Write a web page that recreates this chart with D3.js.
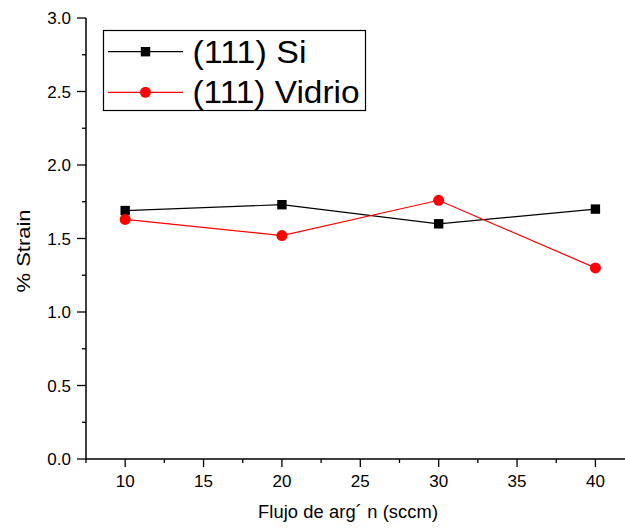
<!DOCTYPE html>
<html><head><meta charset="utf-8">
<script src="https://cdn.jsdelivr.net/npm/d3@7"></script>
<style>body{margin:0;background:#fff}svg{display:block}</style>
</head><body>
<svg id="c" width="625" height="529"></svg>
<script>
const flujo = [10, 20, 30, 40];
const strainSi = [1.69, 1.73, 1.60, 1.70];
const strainVidrio = [1.63, 1.52, 1.76, 1.30];
const seriesNames = ["(111) Si", "(111) Vidrio"];
const xTicks = [10, 15, 20, 25, 30, 35, 40];
const yTicks = [0.0, 0.5, 1.0, 1.5, 2.0, 2.5, 3.0];
const xTitle = "Flujo de arg\u00b4 n (sccm)";
const yTitle = "% Strain";

const svg = d3.select("#c");
const font = "Liberation Sans, Arial, sans-serif";
const x = d3.scaleLinear().domain([7.5, 42.5]).range([86, 634.6]);
const y = d3.scaleLinear().domain([0, 3]).range([459, 18]);

// axes
const xAxis = svg.append("g").attr("transform", "translate(0,459)");
xAxis.append("line").attr("x1", x(7.5)).attr("x2", 625).attr("stroke", "#000").attr("stroke-width", 1.5);
const xMinor = d3.range(7.5, 42.6, 2.5).filter(v => v % 5 !== 0);
xAxis.selectAll(".xmin").data(xMinor).enter().append("line")
  .attr("x1", d => x(d)).attr("x2", d => x(d)).attr("y1", 0).attr("y2", 4)
  .attr("stroke", "#000").attr("stroke-width", 1.3);
xAxis.selectAll(".xmaj").data(xTicks).enter().append("line")
  .attr("x1", d => x(d)).attr("x2", d => x(d)).attr("y1", 0).attr("y2", 8)
  .attr("stroke", "#000").attr("stroke-width", 1.3);
xAxis.selectAll(".xl").data(xTicks).enter().append("text")
  .attr("x", d => x(d)).attr("y", 28).attr("text-anchor", "middle")
  .attr("font-family", font).attr("font-size", 17).attr("fill", "#000")
  .text(d => d);

const yAxis = svg.append("g").attr("transform", "translate(86,0)");
yAxis.append("line").attr("y1", y(0) + 0.75).attr("y2", y(3)).attr("stroke", "#000").attr("stroke-width", 1.5);
const yMinor = d3.range(0.25, 3, 0.5);
yAxis.selectAll(".ymin").data(yMinor).enter().append("line")
  .attr("y1", d => y(d)).attr("y2", d => y(d)).attr("x1", 0).attr("x2", -4)
  .attr("stroke", "#000").attr("stroke-width", 1.3);
yAxis.selectAll(".ymaj").data(yTicks).enter().append("line")
  .attr("y1", d => y(d)).attr("y2", d => y(d)).attr("x1", 0).attr("x2", -9)
  .attr("stroke", "#000").attr("stroke-width", 1.3);
yAxis.selectAll(".yl").data(yTicks).enter().append("text")
  .attr("x", -15).attr("y", d => y(d) + 6).attr("text-anchor", "end")
  .attr("font-family", font).attr("font-size", 17).attr("fill", "#000")
  .text(d => d.toFixed(1));

// titles
svg.append("text").attr("x", 258).attr("y", 518)
  .attr("font-family", font).attr("font-size", 18.3).attr("fill", "#000")
  .attr("textLength", 180).attr("lengthAdjust", "spacing").text(xTitle);
svg.append("text").attr("transform", "translate(30,292.5) rotate(-90)")
  .attr("font-family", font).attr("font-size", 19).attr("fill", "#000")
  .attr("textLength", 83).attr("lengthAdjust", "spacingAndGlyphs").text(yTitle);

// series
const line = d3.line().x(d => x(d[0])).y(d => y(d[1]));
const si = flujo.map((f, i) => [f, strainSi[i]]);
const vi = flujo.map((f, i) => [f, strainVidrio[i]]);
svg.append("path").attr("d", line(si)).attr("fill", "none").attr("stroke", "#000").attr("stroke-width", 1.2);
svg.append("path").attr("d", line(vi)).attr("fill", "none").attr("stroke", "#ff0000").attr("stroke-width", 1.2);
svg.selectAll(".sq").data(si).enter().append("rect")
  .attr("x", d => x(d[0]) - 4.7).attr("y", d => y(d[1]) - 4.7).attr("width", 9.4).attr("height", 9.4).attr("fill", "#000");
svg.selectAll(".ci").data(vi).enter().append("circle")
  .attr("cx", d => x(d[0])).attr("cy", d => y(d[1])).attr("r", 5.5).attr("fill", "#ff0000");

// legend
const lg = svg.append("g");
lg.append("rect").attr("x", 103.5).attr("y", 30.5).attr("width", 262).attr("height", 80)
  .attr("fill", "#fff").attr("stroke", "#000").attr("stroke-width", 1.2);
const rows = [{name: seriesNames[0], c: "#000", y: 51.7, m: "sq", w: 114}, {name: seriesNames[1], c: "#ff0000", y: 92.3, m: "ci", w: 167}];
rows.forEach(r => {
  lg.append("line").attr("x1", 108).attr("x2", 183).attr("y1", r.y).attr("y2", r.y).attr("stroke", r.c).attr("stroke-width", 1.2);
  if (r.m === "sq") lg.append("rect").attr("x", 145.5 - 4.7).attr("y", r.y - 4.7).attr("width", 9.4).attr("height", 9.4).attr("fill", r.c);
  else lg.append("circle").attr("cx", 145.5).attr("cy", r.y).attr("r", 5.5).attr("fill", r.c);
  lg.append("text").attr("x", 192.5).attr("y", r.y + 11).attr("font-family", font).attr("font-size", 32)
    .attr("fill", "#000").attr("textLength", r.w).attr("lengthAdjust", "spacingAndGlyphs").text(r.name);
});
</script>
</body></html>
